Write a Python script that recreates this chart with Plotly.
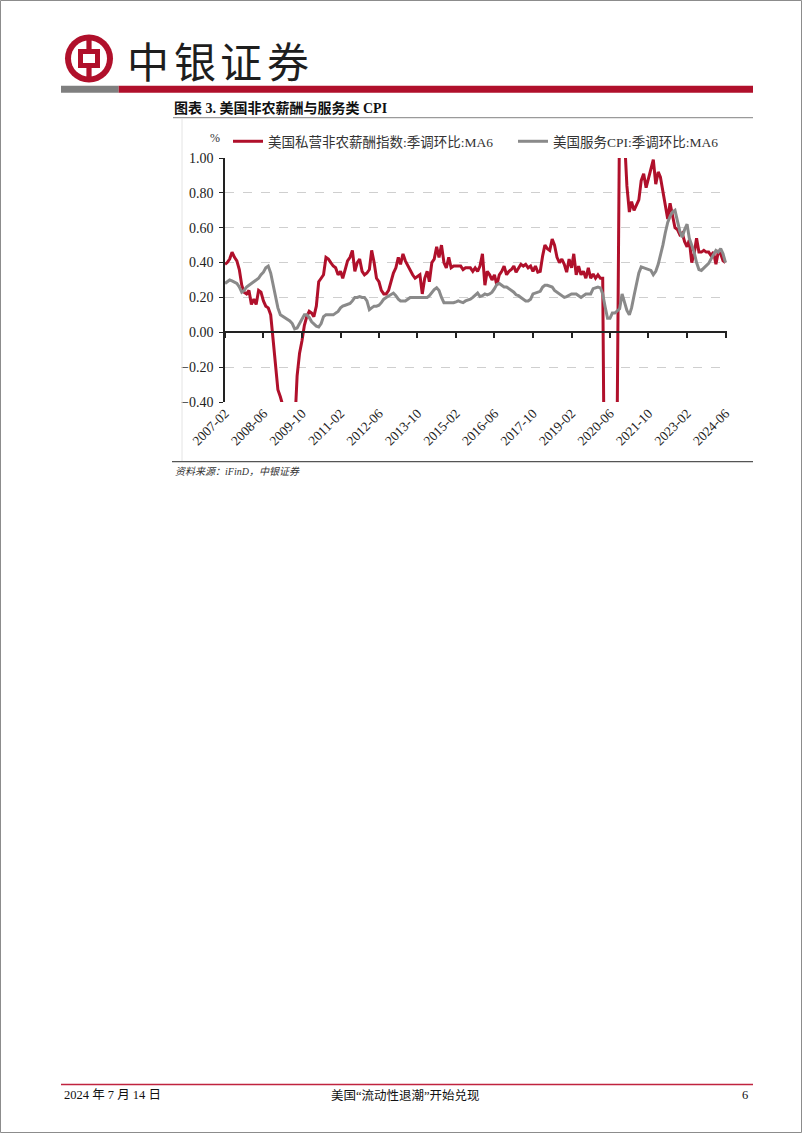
import pandas as pd
import plotly.graph_objects as go

# ---------------- data ----------------
start_month = "2007-02-01"
n_months = 209  # 2007-02 .. 2024-06
months = pd.date_range(start_month, periods=n_months, freq="MS")

payroll_ma6 = [
    0.39, 0.40, 0.42, 0.46, 0.43, 0.41, 0.36, 0.27, 0.23, 0.22,
    0.24, 0.16, 0.19, 0.16, 0.24, 0.23, 0.18, 0.15, 0.14, 0.10,
    -0.04, -0.20, -0.33, -0.37, -0.42, -0.55, -0.68, -0.72, -0.66, -0.55,
    -0.25, -0.12, -0.05, 0.04, 0.09, 0.12, 0.11, 0.09, 0.15, 0.29,
    0.31, 0.33, 0.43, 0.42, 0.40, 0.38, 0.37, 0.33, 0.35, 0.31,
    0.36, 0.41, 0.43, 0.47, 0.35, 0.40, 0.42, 0.35, 0.33, 0.34,
    0.36, 0.47, 0.40, 0.31, 0.29, 0.24, 0.22, 0.22, 0.24, 0.30,
    0.34, 0.37, 0.43, 0.39, 0.45, 0.41, 0.38, 0.35, 0.33, 0.31,
    0.32, 0.33, 0.22, 0.31, 0.35, 0.29, 0.40, 0.42, 0.49, 0.43,
    0.50, 0.40, 0.37, 0.43, 0.37, 0.38, 0.38, 0.38, 0.38, 0.36,
    0.37, 0.37, 0.37, 0.35, 0.37, 0.35, 0.38, 0.45, 0.27, 0.35,
    0.33, 0.30, 0.33, 0.27, 0.33, 0.35, 0.38, 0.33, 0.35, 0.36,
    0.38, 0.345, 0.37, 0.39, 0.38, 0.39, 0.37, 0.38, 0.35, 0.38,
    0.345, 0.35, 0.44, 0.50, 0.48, 0.47, 0.535, 0.50, 0.43, 0.40,
    0.42, 0.39, 0.345, 0.42, 0.37, 0.45, 0.33, 0.38, 0.33, 0.35,
    0.31, 0.37, 0.31, 0.335, 0.31, 0.33, 0.31, 0.31, -1.50, -2.20,
    -2.00, -1.60, -1.00, -0.45, 1.30, 1.50, 1.12, 0.84, 0.69, 0.75,
    0.70, 0.73, 0.76, 0.87, 0.91, 0.83, 0.88, 0.935, 0.99, 0.85,
    0.92, 0.89, 0.80, 0.74, 0.65, 0.74, 0.66, 0.60, 0.59, 0.56,
    0.57, 0.52, 0.49, 0.53, 0.40, 0.45, 0.54, 0.46, 0.46, 0.47,
    0.46, 0.46, 0.44, 0.46, 0.39, 0.46, 0.45, 0.41, 0.40,
]

services_cpi_ma6 = [
    0.28, 0.29, 0.30, 0.295, 0.285, 0.28, 0.26, 0.23, 0.24, 0.26,
    0.27, 0.28, 0.29, 0.30, 0.31, 0.33, 0.345, 0.37, 0.38, 0.34,
    0.28, 0.21, 0.14, 0.10, 0.09, 0.08, 0.075, 0.065, 0.05, 0.02,
    0.025, 0.05, 0.08, 0.10, 0.10, 0.085, 0.06, 0.045, 0.035, 0.03,
    0.05, 0.09, 0.10, 0.10, 0.10, 0.10, 0.11, 0.12, 0.14, 0.15,
    0.155, 0.16, 0.165, 0.18, 0.20, 0.20, 0.205, 0.20, 0.20, 0.18,
    0.13, 0.14, 0.15, 0.15, 0.155, 0.17, 0.19, 0.20, 0.21, 0.22,
    0.225, 0.21, 0.19, 0.18, 0.18, 0.18, 0.19, 0.20, 0.20, 0.20,
    0.20, 0.20, 0.20, 0.20, 0.20, 0.21, 0.23, 0.245, 0.255, 0.24,
    0.20, 0.17, 0.17, 0.17, 0.17, 0.17, 0.175, 0.18, 0.175, 0.17,
    0.18, 0.185, 0.19, 0.20, 0.215, 0.225, 0.205, 0.21, 0.22, 0.215,
    0.22, 0.23, 0.25, 0.275, 0.28, 0.27, 0.26, 0.26, 0.25, 0.24,
    0.23, 0.215, 0.21, 0.20, 0.19, 0.18, 0.18, 0.19, 0.22, 0.225,
    0.23, 0.235, 0.26, 0.27, 0.27, 0.265, 0.26, 0.24, 0.23, 0.22,
    0.21, 0.20, 0.205, 0.215, 0.22, 0.22, 0.22, 0.21, 0.20, 0.21,
    0.22, 0.22, 0.22, 0.25, 0.255, 0.26, 0.255, 0.22, 0.145, 0.08,
    0.08, 0.11, 0.11, 0.125, 0.135, 0.22, 0.175, 0.125, 0.10, 0.14,
    0.21, 0.28, 0.34, 0.375, 0.37, 0.365, 0.36, 0.355, 0.33, 0.35,
    0.39, 0.44, 0.50, 0.57, 0.63, 0.665, 0.69, 0.70, 0.64, 0.58,
    0.545, 0.59, 0.62, 0.54, 0.50, 0.46, 0.40, 0.36, 0.355, 0.37,
    0.38, 0.395, 0.42, 0.45, 0.47, 0.46, 0.48, 0.45, 0.40,
]

series_names = ["美国私营非农薪酬指数:季调环比:MA6", "美国服务CPI:季调环比:MA6"]
y_ticks = [-0.4, -0.2, 0.0, 0.2, 0.4, 0.6, 0.8, 1.0]

# ---------------- page geometry helpers ----------------
W, H = 802, 1133
def px(x):
    return x / W
def py(y):
    return 1 - y / H

RED = "#B0102B"
GRAY = "#8A8A8A"
SERIF = "Liberation Serif, Noto Sans CJK SC, serif"

fig = go.Figure()
fig.add_trace(go.Scatter(x=months, y=payroll_ma6, mode="lines", name=series_names[0],
                         line=dict(color=RED, width=3), legend="legend"))
fig.add_trace(go.Scatter(x=months, y=services_cpi_ma6, mode="lines", name=series_names[1],
                         line=dict(color=GRAY, width=3), legend="legend2"))
# invisible trace to drive the zero-line tick axis
fig.add_trace(go.Scatter(x=[months[0], months[-1]], y=[None, None], xaxis="x2",
                         showlegend=False, hoverinfo="skip"))

plot_left, plot_right, plot_top, plot_bottom = 225, 727, 158, 402
y_zero = plot_bottom - (0 - (-0.4)) / 1.4 * (plot_bottom - plot_top)

x_range = ["2007-02-01", "2024-06-20"]

fig.update_layout(
    width=W, height=H,
    margin=dict(l=0, r=0, t=0, b=0, autoexpand=False),
    paper_bgcolor="white", plot_bgcolor="white",
    font=dict(family=SERIF, size=13, color="#222"),
    xaxis=dict(domain=[px(plot_left), px(plot_right)], range=x_range, type="date",
               tick0="2007-02-01", dtick="M16", tickformat="%Y-%m", tickangle=-45,
               showgrid=False, showline=False, ticks="", zeroline=False, automargin=False,
               tickfont=dict(family=SERIF, size=13.5, color="#222")),
    xaxis2=dict(domain=[px(plot_left), px(plot_right)], range=x_range, type="date",
                overlaying="x", anchor="free", position=py(y_zero), side="bottom",
                tick0="2007-02-01", dtick="M16", showticklabels=False, showgrid=False,
                showline=True, linecolor="#222", linewidth=1.5, automargin=False,
                ticks="outside", ticklen=5, tickwidth=1.5, tickcolor="#222", zeroline=False),
    yaxis=dict(domain=[py(plot_bottom), py(plot_top)], range=[-0.4, 1.0],
               tickvals=y_ticks, tickformat=".2f", automargin=False,
               showgrid=True, gridcolor="#CFCFCF", griddash="dash", gridwidth=1,
               showline=True, linecolor="#222", linewidth=1.5,
               ticks="outside", ticklen=4, tickcolor="#222", zeroline=False,
               ticklabelstandoff=3,
               tickfont=dict(family=SERIF, size=14, color="#222")),
    legend=dict(orientation="h", x=px(228), y=py(126), xanchor="left", yanchor="top",
                font=dict(family=SERIF, size=13.5, color="#333"), bgcolor="rgba(0,0,0,0)"),
    legend2=dict(orientation="h", x=px(513), y=py(126), xanchor="left", yanchor="top",
                 font=dict(family=SERIF, size=13.5, color="#333"), bgcolor="rgba(0,0,0,0)"),
    showlegend=True,
)

shapes = []
# page frame
shapes.append(dict(type="rect", xref="paper", yref="paper", x0=px(0.5), x1=px(801.5),
                   y0=py(1132.5), y1=py(0.5), line=dict(color="#8C8C8C", width=1)))
# logo
cx, cy = 89, 58.5
def circ(r, color):
    return dict(type="circle", xref="paper", yref="paper", x0=px(cx - r), x1=px(cx + r),
                y0=py(cy + r), y1=py(cy - r), fillcolor=color, line=dict(width=0), layer="above")
def rect(x0, y0, x1, y1, color, lw=0, lc=None):
    return dict(type="rect", xref="paper", yref="paper", x0=px(x0), x1=px(x1),
                y0=py(y1), y1=py(y0), fillcolor=color,
                line=dict(width=lw, color=lc or color), layer="above")
shapes.append(circ(24, RED))
shapes.append(circ(18, "white"))
shapes.append(rect(cx - 2.6, cy - 20, cx + 2.6, cy + 20, RED))
shapes.append(rect(cx - 11, cy - 9.5, cx + 11, cy + 9.5, RED))
shapes.append(rect(cx - 6, cy - 4.5, cx + 6, cy + 4.5, "white"))
# header bars
shapes.append(rect(61, 85.7, 118.7, 92.7, "#7F7F7F"))
shapes.append(rect(118.7, 85.7, 753, 92.7, RED))
# line under the chart title
shapes.append(dict(type="line", xref="paper", yref="paper", x0=px(173), x1=px(753),
                   y0=py(117.7), y1=py(117.7), line=dict(color="#9A9A9A", width=1.2)))
# faint left border of the chart box
shapes.append(dict(type="line", xref="paper", yref="paper", x0=px(182), x1=px(182),
                   y0=py(119), y1=py(461), line=dict(color="#E4E4E4", width=1)))
# line under the chart
shapes.append(dict(type="line", xref="paper", yref="paper", x0=px(172), x1=px(753),
                   y0=py(461.7), y1=py(461.7), line=dict(color="#555555", width=1.2)))
# footer line
shapes.append(dict(type="line", xref="paper", yref="paper", x0=px(61), x1=px(753),
                   y0=py(1084.5), y1=py(1084.5), line=dict(color="#C0233F", width=1.5)))
fig.update_layout(shapes=shapes)

ann = []
def text(x, y, s, size, xanchor="left", color="#222", family=SERIF, bold=False, italic=False):
    if bold:
        s = "<b>" + s + "</b>"
    if italic:
        s = "<i>" + s + "</i>"
    ann.append(dict(x=px(x), y=py(y), xref="paper", yref="paper", text=s, showarrow=False,
                    xanchor=xanchor, yanchor="middle", font=dict(size=size, color=color, family=family)))

# brand name
for ch, xc in zip("中银证券", [148, 195, 241, 288]):
    text(xc, 59, ch, 42, xanchor="center", color="#1E1E1E", family="Noto Sans CJK SC")
# chart title
text(172, 108, "图表 3. 美国非农薪酬与服务类 CPI", 14, bold=True, color="#111")
# unit label
text(215, 138, "%", 12, xanchor="center", color="#333")
# source
text(173, 471, "资料来源：iFinD，中银证券", 10, italic=True, color="#333")
# footer
text(62, 1095, "2024 年 7 月 14 日", 12.5, color="#111")
text(405, 1095, "美国“流动性退潮”开始兑现", 12.5, xanchor="center", color="#111")
text(745, 1095, "6", 12.5, xanchor="center", color="#111")
fig.update_layout(annotations=ann)

fig.write_html("out.html", config={"displayModeBar": False},
               post_script="document.body.style.margin='0';")
